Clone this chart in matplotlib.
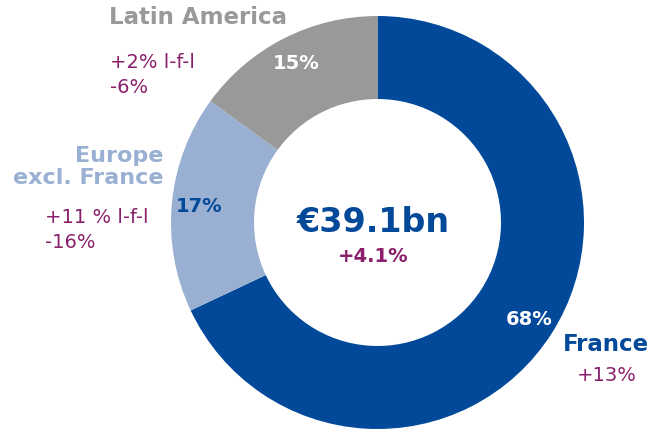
import matplotlib
matplotlib.use("Agg")
import matplotlib.pyplot as plt

# Revenue split by region (share of €39.1bn)
regions = ["France", "Europe\nexcl. France", "Latin America"]
shares = [68, 17, 15]
growth = ["+13%", "+11 % l-f-l\n-16%", "+2% l-f-l\n-6%"]
total_label = "€39.1bn"
total_growth = "+4.1%"

COLOR_FRANCE = "#03499a"
COLOR_EUROPE = "#99b0d2"
COLOR_LATAM = "#999999"
COLOR_MAGENTA = "#8a1f6c"
slice_colors = [COLOR_FRANCE, COLOR_EUROPE, COLOR_LATAM]
pct_colors = ["white", COLOR_FRANCE, "white"]

W, H = 651, 431
plt.rcParams["font.family"] = ["DejaVu Sans"]

fig = plt.figure(figsize=(W / 100, H / 100), dpi=100)
ax = fig.add_axes([0, 0, 1, 1])

cx, cy, R = 377.5, H - 223.5, 206.5

wedges, texts, autotexts = ax.pie(
    shares,
    colors=slice_colors,
    startangle=90,
    counterclock=False,
    center=(cx, cy),
    radius=R,
    autopct=lambda p: f"{p:.0f}%",
    pctdistance=0.87,
    wedgeprops={"width": 0.402 * R, "edgecolor": "none"},
    frame=True,
)
ax.set_xlim(0, W)
ax.set_ylim(0, H)
ax.set_aspect("equal")
ax.axis("off")

for t, c in zip(autotexts, pct_colors):
    t.set_color(c)
    t.set_fontweight("bold")
    t.set_fontsize(14)

# centre total
ax.text(cx - 4, H - 223, total_label, ha="center", va="center",
        fontsize=24, fontweight="bold", color=COLOR_FRANCE)
ax.text(cx - 4, H - 257, total_growth, ha="center", va="center",
        fontsize=14, fontweight="bold", color=COLOR_MAGENTA)

# region labels
ax.text(563, H - 345, regions[0], ha="left", va="center",
        fontsize=16.5, fontweight="bold", color=COLOR_FRANCE)
ax.text(607, H - 376, growth[0], ha="center", va="center",
        fontsize=14, color=COLOR_MAGENTA)

ax.text(163, H - 167, regions[1], ha="right", va="center",
        fontsize=16, fontweight="bold", color=COLOR_EUROPE, linespacing=1.15)
ax.text(45, H - 230, growth[1], ha="left", va="center",
        fontsize=14, color=COLOR_MAGENTA, linespacing=1.35)

ax.text(198, H - 17, regions[2], ha="center", va="center",
        fontsize=16.5, fontweight="bold", color=COLOR_LATAM)
ax.text(110, H - 75, growth[2], ha="left", va="center",
        fontsize=14, color=COLOR_MAGENTA, linespacing=1.35)

fig.savefig("out.png", dpi=100, facecolor="white")
